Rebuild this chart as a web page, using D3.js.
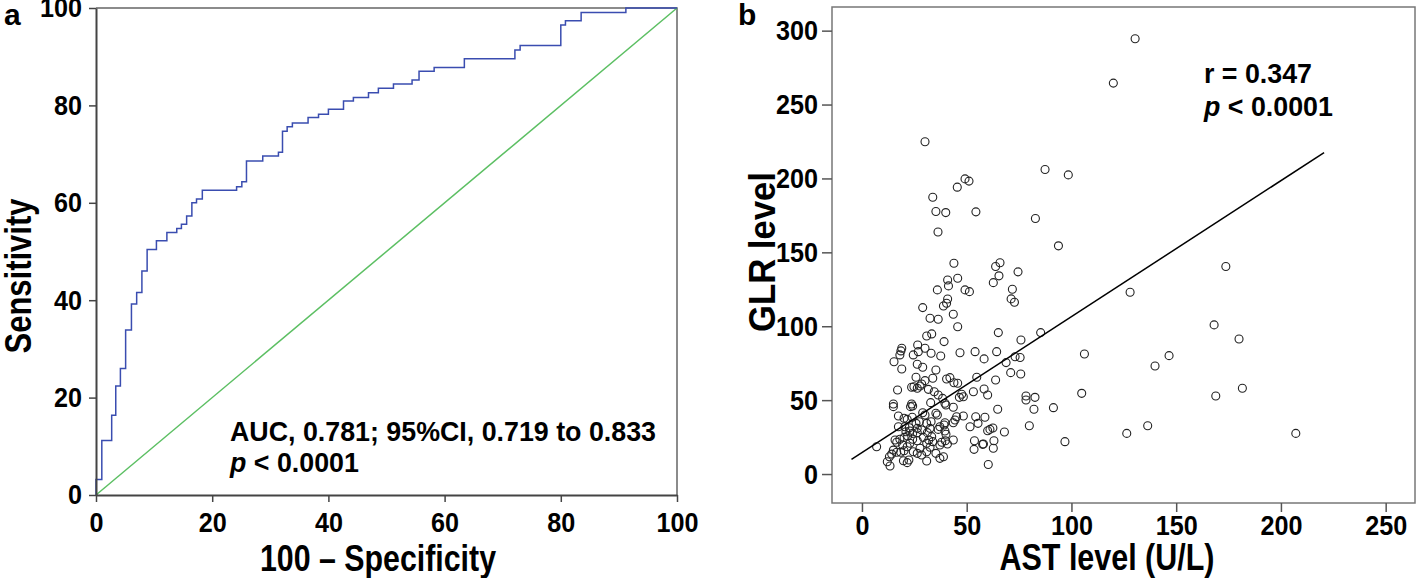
<!DOCTYPE html>
<html>
<head>
<meta charset="utf-8">
<script src="https://cdn.jsdelivr.net/npm/d3@7"></script>
<style>
  body { margin: 0; background: #fff; }
  svg text { font-family: "Liberation Sans", Arial, sans-serif; font-weight: bold; fill: #000; }
  .title { font-size: 36px; }
  .tick text { font-size: 28px; }
  .note { font-size: 26.8px; }
</style>
</head>
<body>
<svg id="chart" width="1418" height="578"></svg>
<script>
// panel a: ROC curve, step corners (100-specificity, sensitivity)
const rocFpr  = [0, 0, 1.0, 2.7, 3.4, 4.2, 5.1, 6.1, 7.0, 7.9, 8.8, 10.4, 12.2, 13.9, 14.7, 15.6, 16.5, 17.3, 18.3,
  24.2, 25.1, 25.9, 28.7, 31.4, 32.1, 32.9, 33.8, 36.5, 38.3, 40.0, 42.6, 44.3, 46.9, 48.6, 51.2, 54.4, 55.6, 58.2,
  63.4, 72.1, 73.0, 80.0, 80.8, 83.5, 91.2, 100];
const rocSens = [0, 3.2, 11.2, 16.4, 22.4, 26.0, 33.9, 39.2, 41.6, 46.0, 50.4, 52.2, 53.9, 54.7, 55.6, 57.3, 60.0, 60.8, 62.6,
  63.3, 64.3, 68.6, 69.6, 70.4, 74.7, 75.6, 76.4, 77.5, 78.2, 79.2, 80.9, 81.6, 82.6, 83.5, 84.4, 85.2, 87.0, 87.8,
  89.6, 91.4, 92.3, 96.5, 97.4, 99.1, 100, 100];
const rocTicks = [0, 20, 40, 60, 80, 100];

// panel b: AST vs GLR scatter
const astLevel = [130.4, 120, 98.5, 93.8, 173.7, 128, 168.1, 180, 106.2, 146.6, 139.9, 104.9, 168.9, 181.6, 91.4, 136.4, 126.4, 96.9, 207.1,
  30.1, 87.4, 49.2, 51.1, 45.5, 33.8, 35.3, 40, 54.4, 82.8, 36.3, 43.9, 63.8, 65.9, 74.5, 65.4, 62.7, 40.9, 45.7, 41.3, 36, 49.2, 51.3, 71.8, 40.9,
  71.2, 72.8, 29, 38.9, 40.4, 32.5, 36.4, 43.6, 45.7, 65.1, 85.3, 75.9, 30.9, 33.3, 39.2, 26.6, 19, 18.6, 30.1, 46.8, 54, 64.3, 33, 37.6, 24.5, 26.9,
  18.1, 15.3, 58.3, 73.1, 75.5, 26.4, 29, 68.8, 19, 35.3, 71, 75.8, 54.8, 25.8, 33.8, 40.4, 42, 63.8, 30.1, 28.5, 43.9, 45.7, 24.8, 23.7, 26.4, 27.7,
  17, 31.7, 34.5, 36.4, 53.2, 58.3, 60, 38.5, 47.6, 48.4, 46.5, 32.8, 78.3, 78.3, 82.6, 40.1, 39.6, 15, 15, 23.7, 24.2, 23.2, 43.6, 64.8, 82.1,
  17.4, 29, 30.1, 35.3, 36, 48.4, 45.2, 54.3, 58.7, 20.1, 21.6, 24, 27.4, 25.8, 30.9, 33, 39.6, 39.2, 44.4, 43.6, 55.4, 79.9, 17.4, 20.5, 22.6,
  26.4, 28.5, 32.5, 36.4, 37.2, 51.6, 62.5, 60, 61.1, 21, 22.9, 24.2, 26.4, 31.2, 39.6, 40.1, 68, 15.8, 16.6, 18.1, 21.8, 20.1, 24.2, 26.4, 29.3,
  31.9, 30.9, 33.3, 33.8, 37.2, 38.1, 40.8, 39.8, 43.6, 53.7, 58, 63, 7, 19.4, 21.6, 22.9, 15, 16.6, 14.2, 18.5, 20.1, 27.7, 28.5, 30.9, 32.5,
  35.3, 37.2, 38.9, 53.5, 57.6, 62.7, 12.1, 13.4, 13.1, 19.8, 22.4, 21.6, 26.4, 24.5, 30.9, 60.3];
const glrLevel = [294.5, 264.5, 202.4, 154.4, 140.4, 123, 100.9, 91.4, 81.2, 80.1, 73.1, 54.6, 52.8, 58, 44.9, 32.7, 27.5, 21.9, 27.5,
  224.8, 206, 199.7, 198.2, 194.1, 187.3, 177.6, 176.9, 177.4, 172.9, 163.8, 142.6, 140.4, 143, 136.8, 134.1, 129.5, 131.3, 132.5, 127.3, 124.6, 124.6, 123.4, 125, 118.4,
  118.5, 116.2, 112.6, 113.7, 115.6, 105.4, 104.7, 108.1, 99.7, 95.7, 95.7, 90.7, 93.4, 94.8, 89.6, 87.3, 85.1, 83.3, 85.1, 82.1, 82.8, 82.8, 81.7, 79.9, 80.6, 82.8,
  80.6, 76, 77.9, 79.4, 78.8, 74.3, 72.2, 75.4, 71.1, 70.4, 68.6, 67.7, 65.5, 65.5, 64.8, 64.3, 65.2, 63.6, 63.2, 60.9, 61.8, 61.4, 59.1, 58.7, 58, 59.6,
  56.9, 57.3, 55.7, 53.5, 55.7, 57.5, 53.5, 51.2, 54, 52.3, 51.9, 48.3, 52.8, 50.1, 51.9, 46.7, 47.9, 47.4, 45.6, 47.4, 46, 45.6, 45.2, 43.8, 43.8,
  39.3, 41.5, 39.9, 41.1, 39.9, 39.3, 38.8, 38.8, 38.4, 37.7, 37, 38.4, 35.4, 34.3, 34.3, 35.4, 34.7, 33.2, 36.6, 34.7, 34.3, 32.7, 32, 32, 31.3,
  30.9, 29.8, 30.9, 30.2, 32, 32, 31.1, 29.3, 30.2, 28.6, 29.1, 27.5, 28, 28, 29.1, 26.9, 28.4, 23, 21.5, 23.5, 25.7, 24.8, 23.5, 22.5, 24.8,
  23, 20.8, 25.3, 21.9, 19.6, 21.5, 20.3, 22.5, 23, 22.5, 20.3, 22.5, 18.5, 19.6, 18.5, 20.8, 16.2, 14.7, 13.5, 14.7, 15.8, 17.4, 12.9, 15.1, 18.1,
  14, 10.6, 11.7, 16.7, 20.1, 17.4, 8.3, 5.4, 11.7, 9, 9.5, 7.7, 14, 15.1, 8.8, 6.5];
const astTicks = [0, 50, 100, 150, 200, 250];
const glrTicks = [0, 50, 100, 150, 200, 250, 300];
// regression line: intercept, slope, and x range drawn
const fitCoef = [14.5, 0.92];
const fitRange = [-5, 220.6];

const svg = d3.select("#chart");
svg.append("rect").attr("width", 1418).attr("height", 578).attr("fill", "#fff");

// the original uses a condensed bold face; squeeze the glyphs to match
function condense(sel, width) {
  sel.attr("textLength", width).attr("lengthAdjust", "spacingAndGlyphs");
}
function styleTicks(a) {
  a.attr("font-size", null).attr("font-family", null);
  a.selectAll(".tick text").each(function(d) {
    condense(d3.select(this), String(d).length * 14);
  });
}

// ---------- panel a ----------
const xa = d3.scaleLinear().domain([0, 100]).range([96, 677]);
const ya = d3.scaleLinear().domain([0, 100]).range([495, 8]);
const ga = svg.append("g");

// frame top + right
ga.append("path")
  .attr("d", `M${xa(0)},${ya(100)}H${xa(100)}V${ya(0)}`)
  .attr("fill", "none").attr("stroke", "#666").attr("stroke-width", 1.5);

ga.append("line")
  .attr("x1", xa(0)).attr("y1", ya(0)).attr("x2", xa(100)).attr("y2", ya(100))
  .attr("stroke", "#5cbf63").attr("stroke-width", 1.5);

const rocPts = rocFpr.map((f, i) => [f, rocSens[i]]);
ga.append("path")
  .datum(rocPts)
  .attr("fill", "none").attr("stroke", "#3a4db0").attr("stroke-width", 1.5)
  .attr("d", d3.line().x(d => xa(d[0])).y(d => ya(d[1])).curve(d3.curveStepAfter));

const axA = ga.append("g").attr("transform", `translate(0,${ya(0)})`)
  .call(d3.axisBottom(xa).tickValues(rocTicks).tickSize(7).tickPadding(10).tickSizeOuter(0));
const ayA = ga.append("g").attr("transform", `translate(${xa(0)},0)`)
  .call(d3.axisLeft(ya).tickValues(rocTicks).tickSize(7).tickPadding(7).tickSizeOuter(0));
[axA, ayA].forEach(a => {
  a.select(".domain").attr("stroke", "#444").attr("stroke-width", 2);
  a.selectAll(".tick line").attr("stroke", "#444").attr("stroke-width", 1.5);
  styleTicks(a);
});

ga.append("text").attr("class", "title")
  .attr("transform", "translate(31,276) rotate(-90)").attr("text-anchor", "middle")
  .text("Sensitivity").call(condense, 155);
ga.append("text").attr("class", "title")
  .attr("x", 378).attr("y", 571).attr("text-anchor", "middle")
  .text("100 \u2013 Specificity").call(condense, 236);
ga.append("text").attr("x", 4).attr("y", 25).attr("font-size", 30).text("a");

ga.append("text").attr("class", "note").attr("x", 230).attr("y", 441)
  .text("AUC, 0.781; 95%CI, 0.719 to 0.833");
const pa = ga.append("text").attr("class", "note").attr("x", 230).attr("y", 472);
pa.append("tspan").attr("font-style", "italic").text("p");
pa.append("tspan").text(" < 0.0001");

// ---------- panel b ----------
const xb = d3.scaleLinear().domain([-14.3, 264]).range([832, 1415]);
const yb = d3.scaleLinear().domain([-19.6, 316]).range([503, 7]);
const gb = svg.append("g");

gb.append("rect")
  .attr("x", 832).attr("y", 7).attr("width", 1415 - 832).attr("height", 503 - 7)
  .attr("fill", "none").attr("stroke", "#777").attr("stroke-width", 1.5);

gb.append("g")
  .selectAll("circle")
  .data(astLevel.map((a, i) => [a, glrLevel[i]]))
  .join("circle")
  .attr("cx", d => xb(d[0])).attr("cy", d => yb(d[1])).attr("r", 4)
  .attr("fill", "none").attr("stroke", "#222").attr("stroke-width", 1.1);

gb.append("line")
  .attr("x1", xb(fitRange[0])).attr("y1", yb(fitCoef[0] + fitCoef[1] * fitRange[0]))
  .attr("x2", xb(fitRange[1])).attr("y2", yb(fitCoef[0] + fitCoef[1] * fitRange[1]))
  .attr("stroke", "#000").attr("stroke-width", 1.5);

const axB = gb.append("g").attr("transform", "translate(0,503)")
  .call(d3.axisBottom(xb).tickValues(astTicks).tickSize(9).tickPadding(3).tickSizeOuter(0));
const ayB = gb.append("g").attr("transform", "translate(832,0)")
  .call(d3.axisLeft(yb).tickValues(glrTicks).tickSize(10).tickPadding(4).tickSizeOuter(0));
[axB, ayB].forEach(a => {
  a.select(".domain").remove();
  a.selectAll(".tick line").attr("stroke", "#555").attr("stroke-width", 1.5);
  styleTicks(a);
});

gb.append("text").attr("class", "title")
  .attr("transform", "translate(775,252) rotate(-90)").attr("text-anchor", "middle")
  .text("GLR level").call(condense, 160);
gb.append("text").attr("class", "title")
  .attr("x", 1107).attr("y", 570).attr("text-anchor", "middle")
  .text("AST level (U/L)").call(condense, 215);
gb.append("text").attr("x", 738).attr("y", 25).attr("font-size", 30).text("b");

gb.append("text").attr("class", "note").attr("x", 1204).attr("y", 83).text("r = 0.347");
const pb = gb.append("text").attr("class", "note").attr("x", 1204).attr("y", 116);
pb.append("tspan").attr("font-style", "italic").text("p");
pb.append("tspan").text(" < 0.0001");
</script>
</body>
</html>
